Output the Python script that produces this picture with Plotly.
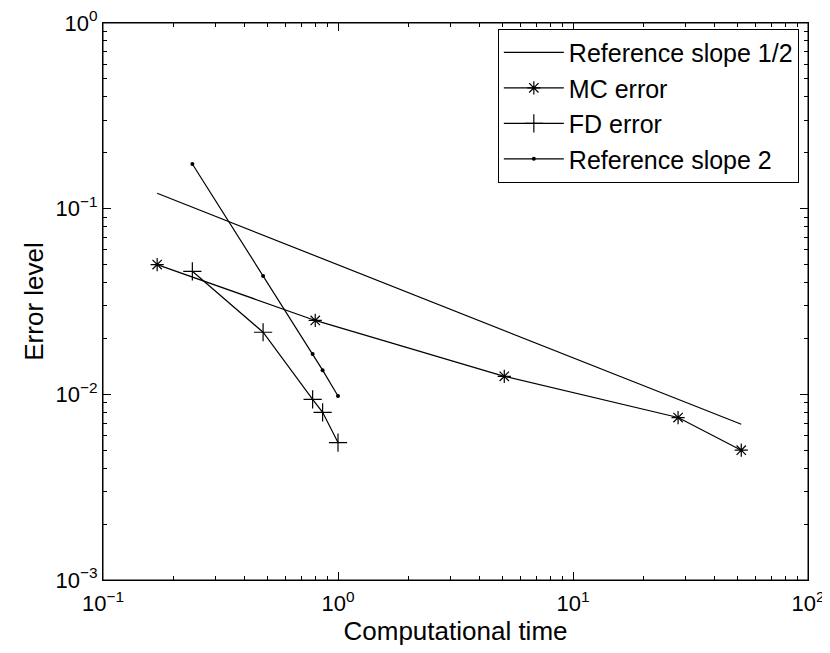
import plotly.graph_objects as go

# data
ref_half_x = [0.17, 52.0]
ref_half_y = [0.121, 0.0069]

mc_time = [0.17, 0.80, 5.1, 28.0, 52.0]
mc_err = [0.050, 0.025, 0.0125, 0.0075, 0.0050]

fd_time = [0.24, 0.48, 0.78, 0.86, 1.0]
fd_err = [0.046, 0.0216, 0.0094, 0.0080, 0.0055]

ref_two_x = [0.24, 0.48, 0.78, 0.86, 1.0]
ref_two_y = [0.174, 0.0434, 0.0165, 0.0135, 0.0098]

x_ticks = [0.1, 1, 10, 100]
x_ticktext = ["10<sup>−1</sup>", "10<sup>0</sup>", "10<sup>1</sup>", "10<sup>2</sup>"]
y_ticks = [0.001, 0.01, 0.1, 1]
y_ticktext = ["10<sup>−3</sup>", "10<sup>−2</sup>", "10<sup>−1</sup>", "10<sup>0</sup>"]

FONT = "Liberation Sans, Arial, sans-serif"
line = dict(color="black", width=1.2)


def minor_vals(lo, hi):
    vals = []
    d = lo
    while d < hi:
        vals += [m * d for m in range(2, 10)]
        d *= 10
    return vals


fig = go.Figure()
fig.add_trace(go.Scatter(x=ref_half_x, y=ref_half_y, mode="lines",
                         name="Reference slope 1/2", line=line))
fig.add_trace(go.Scatter(x=mc_time, y=mc_err, mode="lines+markers",
                         name="MC error", line=line,
                         marker=dict(symbol="asterisk-open", size=11,
                                     color="black", line=dict(color="black", width=1.2))))
fig.add_trace(go.Scatter(x=fd_time, y=fd_err, mode="lines+markers",
                         name="FD error", line=line,
                         marker=dict(symbol="cross-thin-open", size=13,
                                     color="black", line=dict(color="black", width=1.2))))
fig.add_trace(go.Scatter(x=ref_two_x, y=ref_two_y, mode="lines+markers",
                         name="Reference slope 2", line=line,
                         marker=dict(symbol="circle", size=4, color="black")))


def axis(ticks, ticktext, minors, rng, title, standoff, label_off):
    return dict(
        type="log", range=rng, automargin=False,
        tickmode="array", tickvals=ticks, ticktext=ticktext,
        ticklabeloverflow="allow", ticklabelstandoff=label_off,
        showgrid=False, zeroline=False,
        showline=True, linecolor="black", linewidth=1, mirror="ticks",
        ticks="inside", ticklen=8, tickcolor="black",
        minor=dict(tickmode="array", tickvals=minors, ticks="inside",
                   ticklen=4, tickcolor="black", showgrid=False),
        tickfont=dict(family=FONT, size=22, color="black"),
        title=dict(text=title, standoff=standoff,
                   font=dict(family=FONT, size=26, color="black")),
    )


# the page body adds 8px around the figure, so the size is trimmed to fit
fig.update_layout(
    width=822, height=645,
    margin=dict(l=95, r=22, t=15, b=73),
    paper_bgcolor="white", plot_bgcolor="white",
    xaxis=axis(x_ticks, x_ticktext, minor_vals(0.1, 100), [-1, 2],
               "Computational time", 5, 4),
    yaxis=axis(y_ticks, y_ticktext, minor_vals(0.001, 1), [-3, 0],
               "Error level", 4, 0),
    legend=dict(x=0.987, y=0.99, xanchor="right", yanchor="top",
                bordercolor="black", borderwidth=1, bgcolor="white",
                itemwidth=60, tracegroupgap=0,
                font=dict(family=FONT, size=25, color="black")),
)

# box frame round the plot area
fig.add_shape(type="rect", xref="paper", yref="paper", x0=0, y0=0, x1=1, y1=1,
              line=dict(color="black", width=1), layer="above")

fig.write_html("out.html")
